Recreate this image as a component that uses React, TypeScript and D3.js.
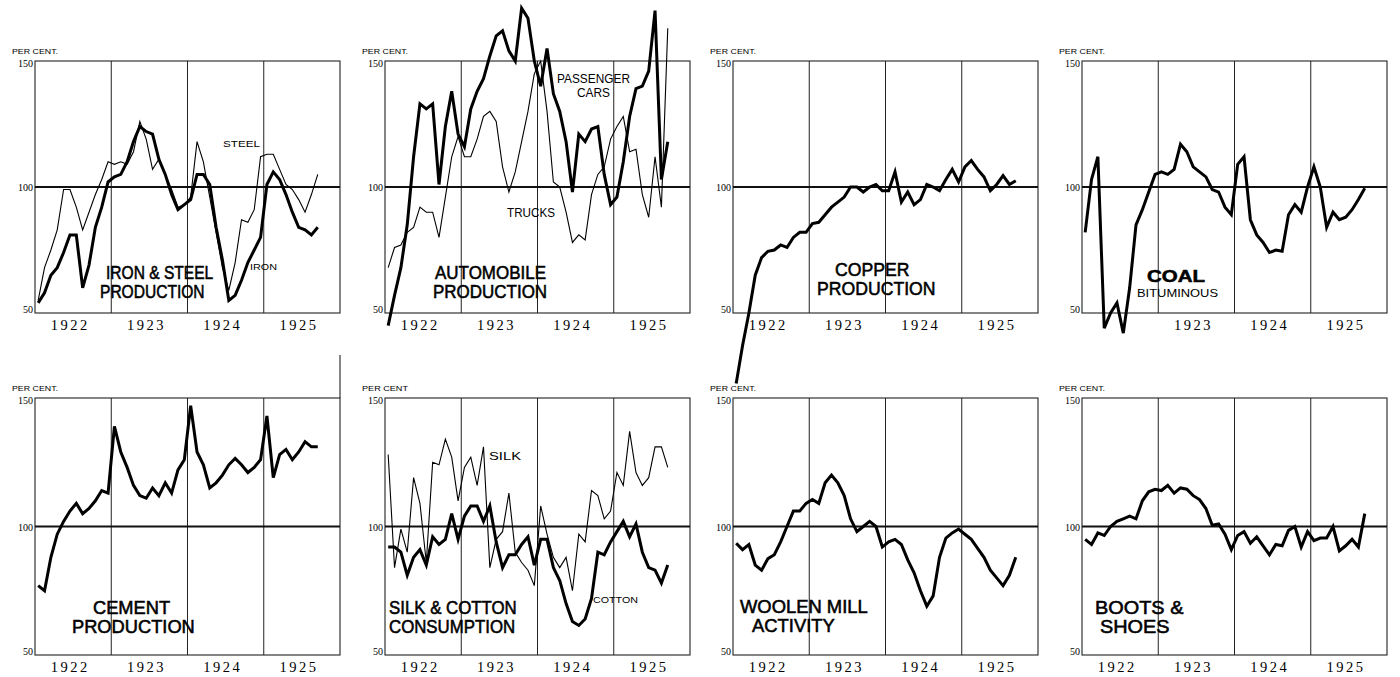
import * as d3 from "d3";
import React from "react";

// monthly index numbers, Jan 1922 .. Sep 1925 (per cent of normal)
const years = ["1922", "1923", "1924", "1925"];
const yTicks = [50, 100, 150];

const ironValues = [54, 58, 65, 68, 74, 81, 81, 60, 69, 84, 92, 102, 104, 105, 110, 118, 124, 122, 121, 111, 105, 97, 91, 93, 95, 105, 105, 101, 84, 71, 55, 57, 63, 70, 75, 80, 101, 106, 103, 97, 90, 84, 83, 81, 84];
const steelValues = [55, 68, 75, 83, 99, 99, 92, 83, 90, 97, 103, 110, 109, 110, 109, 114, 126, 119, 107, 111, 105, 99, 92, 93, 96, 118, 110, 96, 82, 68, 59, 70, 87, 86, 91, 112, 113, 113, 107, 101, 99, 95, 90, 97, 105];
const carValues = [45, 57, 68, 85, 112, 133, 131, 133, 101, 124, 138, 121, 116, 131, 138, 143, 152, 160, 162, 154, 150, 171, 167, 150, 140, 155, 137, 130, 118, 98, 121, 118, 123, 124, 105, 93, 96, 110, 128, 139, 140, 146, 170, 103, 118];
const truckValues = [68, 76, 77, 82, 84, 92, 90, 90, 80, 96, 112, 120, 112, 112, 119, 128, 130, 126, 108, 98, 106, 118, 130, 145, 150, 130, 102, 100, 90, 78, 81, 79, 97, 105, 108, 119, 124, 128, 114, 115, 97, 88, 112, 92, 163];
const copperValues = [22, 37, 50, 65, 72, 74.5, 75, 77, 76, 80, 82, 82, 85.5, 86, 89, 92, 94, 96, 100, 100, 98, 100, 101, 98.5, 98.5, 106, 94, 98, 93, 95, 101, 100, 98.5, 103, 107, 102, 108, 110.5, 107, 104, 98.5, 101, 104.5, 101, 102.5];
const coalValues = [82, 103, 112, 44, 50, 54, 42, 60, 85, 91, 98, 105, 106, 105, 107, 117, 114, 108, 106, 104, 99, 98, 92, 89, 109, 112, 87, 81, 78, 74, 75, 74.5, 89, 93, 90, 100, 108, 100, 84, 90, 87, 88, 91, 95, 99.5];
const cementValues = [77, 75, 88, 97, 102, 106, 109, 105, 107, 110, 114, 113, 139, 129, 123, 116, 112, 111, 115, 112, 117, 113, 122, 126, 147, 129, 124, 115, 117, 120, 124, 126.5, 124, 121, 123, 126, 143, 119, 128, 130, 126, 129, 133, 131, 131];
const cottonValues = [92, 92, 90, 81, 88, 91, 85, 96, 93, 95, 105, 95, 104, 108, 108, 102, 108, 94, 84, 89, 89, 93, 96, 85, 95, 95, 84, 79, 70, 63, 61.5, 64, 72, 90, 89, 94, 98, 102, 96, 101, 90, 84, 83, 78, 85];
const silkValues = [128, 84, 99, 90, 119, 109, 86, 125, 124, 134, 127, 110, 123, 127, 116, 131, 84, 95, 98, 113, 90, 86, 83, 77, 108, 97, 88, 84, 88, 75, 97, 94, 114, 112, 103, 106, 121, 116, 137, 121, 116, 119, 131, 131, 123];
const woolenValues = [93.5, 91, 93, 85, 83, 87.5, 89, 94, 100, 106, 106, 109, 110.5, 109, 117, 120, 117, 112, 103, 98, 100, 102, 100, 92, 94, 95, 93, 87, 82, 75, 69, 73, 88, 95.5, 97.5, 99, 97, 95, 91.5, 88, 83, 80, 77, 81, 88];
const bootsValues = [95, 93, 97.5, 96.5, 100, 102, 103, 104, 103, 110, 113.5, 114.5, 114, 116, 113, 115, 114.5, 112, 110.5, 107, 100.5, 101, 97, 91, 96.5, 98, 93.5, 96, 92.5, 89, 93, 92.5, 98.5, 100, 92, 98, 94.5, 95.5, 95.5, 100, 90.5, 92.5, 95, 92, 105];

// layout
const W = 1400;
const H = 677;
const colLeft = [35, 385, 733, 1082];
const panelW = 305;
const rowTop = [61, 398];
const rowBottom = [313, 655];
const FONT = "Liberation Sans";
const T = 18.5; // title size

// label groups: each line is [text, dx, dy (baseline), width] relative to the panel's top-left
const panels = [
  {
    col: 0, row: 0, perCent: "PER CENT.", firstYear: true,
    series: [{ values: steelValues, heavy: false }, { values: ironValues, heavy: true }],
    labels: [
      { size: T, lines: [["IRON & STEEL", 71, 217.5, 107], ["PRODUCTION", 65, 237, 105]] },
      { size: 9.5, lines: [["STEEL", 188, 86, 37]] },
      { size: 9.5, lines: [["IRON", 215, 209, 27]] },
    ],
  },
  {
    col: 1, row: 0, perCent: "PER CENT.", firstYear: true,
    series: [{ values: truckValues, heavy: false }, { values: carValues, heavy: true }],
    labels: [
      { size: T, lines: [["AUTOMOBILE", 50, 217.5, 113], ["PRODUCTION", 48, 237, 112]] },
      { size: 12.5, lines: [["PASSENGER", 172, 22, 73], ["CARS", 192, 36, 33]] },
      { size: 12, lines: [["TRUCKS", 122, 156, 48]] },
    ],
  },
  {
    col: 2, row: 0, perCent: "PER CENT.", firstYear: true,
    series: [{ values: copperValues, heavy: true }],
    labels: [
      { size: T, lines: [["COPPER", 102, 215, 78], ["PRODUCTION", 84, 234.5, 113]] },
    ],
  },
  {
    col: 3, row: 0, perCent: "PER CENT.", firstYear: false,
    series: [{ values: coalValues, heavy: true }],
    labels: [
      { size: 17, bold: true, lines: [["COAL", 65, 221, 58]] },
      { size: 11.5, lines: [["BITUMINOUS", 55, 236, 81]] },
    ],
  },
  {
    col: 0, row: 1, perCent: "PER CENT.", firstYear: true, tallRight: true,
    series: [{ values: cementValues, heavy: true }],
    labels: [
      { size: T, lines: [["CEMENT", 58, 216, 79], ["PRODUCTION", 37, 235.5, 120]] },
    ],
  },
  {
    col: 1, row: 1, perCent: "PER CENT", firstYear: true,
    series: [{ values: silkValues, heavy: false }, { values: cottonValues, heavy: true }],
    labels: [
      { size: T, lines: [["SILK & COTTON", 4, 216, 125], ["CONSUMPTION", 4, 235.5, 129]] },
      { size: 10, lines: [["SILK", 104, 62, 32]] },
      { size: 9.5, lines: [["COTTON", 208, 205, 45]] },
    ],
  },
  {
    col: 2, row: 1, perCent: "PER CENT.", firstYear: true,
    series: [{ values: woolenValues, heavy: true }],
    labels: [
      { size: T, lines: [["WOOLEN MILL", 7, 214.5, 123], ["ACTIVITY", 19, 234, 86]] },
    ],
  },
  {
    col: 3, row: 1, perCent: "PER CENT.", firstYear: true,
    series: [{ values: bootsValues, heavy: true }],
    labels: [
      { size: T, lines: [["BOOTS &", 13, 216, 88], ["SHOES", 18, 235.5, 70]] },
    ],
  },
];

let ctx: CanvasRenderingContext2D | null = null;
const measure = (text: string, size: number, bold?: boolean) => {
  if (!ctx) ctx = document.createElement("canvas").getContext("2d");
  if (!ctx) return text.length * size * 0.65;
  ctx.font = `${bold ? "bold " : ""}${size}px "${FONT}"`;
  return ctx.measureText(text).width;
};

const Label = ({ g, left, top }: { g: any; left: number; top: number }) => {
  // one horizontal squeeze for the whole group, so the hand-lettered look is kept
  const ratios = g.lines.map((l: any) => l[3] / measure(l[0], g.size, g.bold));
  const s = d3.mean(ratios) as number;
  const [, dx0, dy0] = g.lines[0];
  return (
    <text transform={`translate(${left + dx0},${top + dy0}) scale(${s},1)`} fontFamily={FONT}
      fontSize={g.size} fontWeight={g.bold ? "bold" : "normal"} stroke="#000"
      strokeWidth={g.size > 15 ? 0.55 : 0}>
      {g.lines.map((l: any, i: number) => (
        <tspan key={i} x={(l[1] - dx0) / s} y={l[2] - dy0}>{l[0]}</tspan>
      ))}
    </text>
  );
};

const Panel = ({ p }: { p: any }) => {
  const left = colLeft[p.col];
  const right = left + panelW;
  const top = rowTop[p.row];
  const bottom = rowBottom[p.row];

  const x = d3.scaleLinear().domain([0, 48]).range([left, right]);
  const y = d3.scaleLinear().domain([50, 150]).range([bottom, top]);
  const line = d3.line<number>().x((d, i) => x(i + 0.5)).y((d) => y(d));

  return (
    <g>
      <rect x={left} y={top} width={right - left} height={bottom - top} fill="none" stroke="#222" strokeWidth={1.1} />
      {[12, 24, 36].map((m) => (
        <line key={m} x1={x(m)} x2={x(m)} y1={top} y2={bottom} stroke="#222" strokeWidth={1} />
      ))}
      {p.tallRight && <line x1={right} x2={right} y1={top - 43} y2={top} stroke="#222" strokeWidth={1.1} />}
      <line x1={left} x2={right} y1={y(100)} y2={y(100)} stroke="#111" strokeWidth={1.8} />
      {yTicks.map((t) => (
        <text key={t} x={left - 2} y={y(t) + (t === 150 ? 6 : t === 100 ? 4 : 0)} textAnchor="end"
          fontFamily="Liberation Serif" fontSize={10}>{t}</text>
      ))}
      <text x={left - 23} y={top - 7} fontFamily={FONT} fontSize={7.5} textLength={46} lengthAdjust="spacingAndGlyphs">{p.perCent}</text>
      {years.map((yr, i) => (p.firstYear || i > 0) && (
        <text key={yr} x={x(6 + 12 * i) - 3} y={bottom + 17} textAnchor="middle"
          fontFamily="Liberation Serif" fontSize={14.5} letterSpacing={2.5}>{yr}</text>
      ))}
      {p.series.map((s: any, i: number) => (
        <path key={i} d={line(s.values) || ""} fill="none" stroke="#000"
          strokeWidth={s.heavy ? 3 : 1.1} strokeLinejoin="miter" />
      ))}
      {p.labels.map((g: any, i: number) => <Label key={i} g={g} left={left} top={top} />)}
    </g>
  );
};

export default function App() {
  return (
    <svg width={W} height={H} viewBox={`0 0 ${W} ${H}`} style={{ position: "absolute", left: 0, top: 0, background: "#fff" }}>
      {panels.map((p, i) => <Panel key={i} p={p} />)}
    </svg>
  );
}
